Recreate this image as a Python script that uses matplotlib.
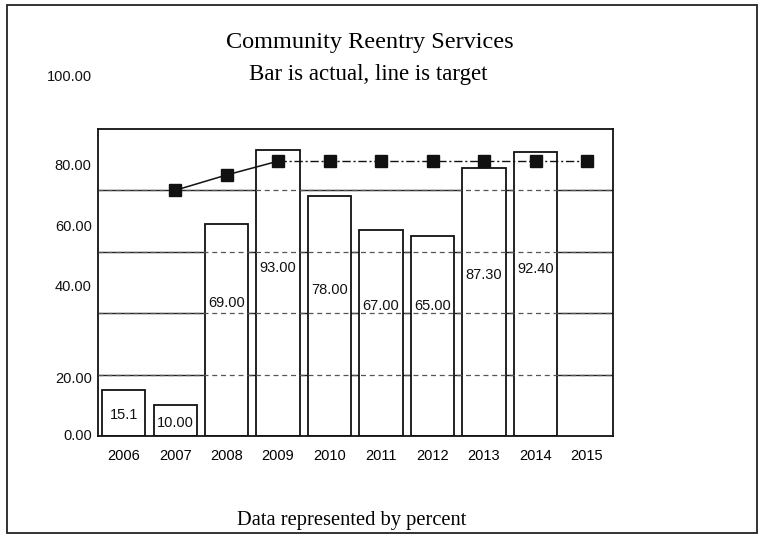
import numpy as np
import matplotlib
matplotlib.use("Agg")
import matplotlib.pyplot as plt
from matplotlib.patches import Rectangle

years = ['2006', '2007', '2008', '2009', '2010', '2011', '2012', '2013', '2014', '2015']
actual = [15.1, 10.0, 69.0, 93.0, 78.0, 67.0, 65.0, 87.3, 92.4, np.nan]
actual_labels = ['15.1', '10.00', '69.00', '93.00', '78.00', '67.00', '65.00', '87.30', '92.40', '']
target = [np.nan, 80.0, 85.0, 89.5, 89.5, 89.5, 89.5, 89.5, 89.5, 89.5]
ytick_text = ['0.00', '20.00', '40.00', '60.00', '80.00', '100.00']

# layout: where the value labels sit inside each bar (fraction of bar height)
label_frac = [0.45, 0.42, 0.63, 0.59, 0.61, 0.63, 0.65, 0.60, 0.59, 0.0]
# where the y labels sit in the scan (axes fraction), they are shifted from the grid
label_pos = [0.0, 0.185, 0.486, 0.681, 0.879, 1.17]

plt.rcParams['font.family'] = ['Liberation Sans', 'DejaVu Sans']

fig = plt.figure(figsize=(7.65, 5.37), dpi=100)
ax = fig.add_axes([0.128, 0.188, 0.673, 0.572])

x = np.arange(len(years))
ax.set_xlim(-0.5, 9.5)
ax.set_ylim(0, 100)

# grid behind the bars
for g in [20, 40, 60, 80]:
    ax.axhline(g, color='#222222', lw=1.0, zorder=1)

ax.bar(x, actual, width=0.84, color='white', edgecolor='#111111', linewidth=1.3, zorder=2)

# grid shows through the bars as a broken line
for g in [20, 40, 60, 80]:
    ax.axhline(g, color='#555555', lw=0.9, ls=(0, (4, 3)), zorder=3)

for xi, v, lab, fr in zip(x, actual, actual_labels, label_frac):
    if not lab:
        continue
    ax.text(xi, v * fr, lab, ha='center', va='center', fontsize=10.5, color='#111111', zorder=5)

# target line: solid up to 2009, dash-dot after
t = np.array(target)
ax.plot(x[1:4], t[1:4], color='#111111', lw=1.1, zorder=4)
ax.plot(x[3:], t[3:], color='#111111', lw=1.0, ls=(0, (6, 2, 1.5, 2)), zorder=4)
ax.plot(x, t, ls='none', marker='s', markersize=8.5, color='#111111', zorder=6)

ax.set_xticks(x)
ax.set_xticklabels(years, fontsize=10.5)
ax.tick_params(axis='x', length=0, pad=9)
ax.set_yticks([])
for lab, p in zip(ytick_text, label_pos):
    ax.text(-0.012, p, lab, transform=ax.transAxes, ha='right', va='center', fontsize=10.5,
            color='#111111', clip_on=False)

for s in ax.spines.values():
    s.set_linewidth(1.3)
    s.set_color('#111111')

fig.text(0.484, 0.920, 'Community Reentry Services', ha='center', va='center',
         fontsize=17.5, family='Liberation Serif')
fig.text(0.481, 0.862, 'Bar is actual, line is target', ha='center', va='center',
         fontsize=16.5, family='Liberation Serif')
fig.text(0.460, 0.030, 'Data represented by percent', ha='center', va='center',
         fontsize=14.8, family='Liberation Serif')

# outer frame of the page
fig.patches.append(Rectangle((0.009, 0.008), 0.981, 0.983, transform=fig.transFigure,
                             fill=False, edgecolor='#222222', linewidth=1.3))

fig.savefig('out.png', dpi=100)
